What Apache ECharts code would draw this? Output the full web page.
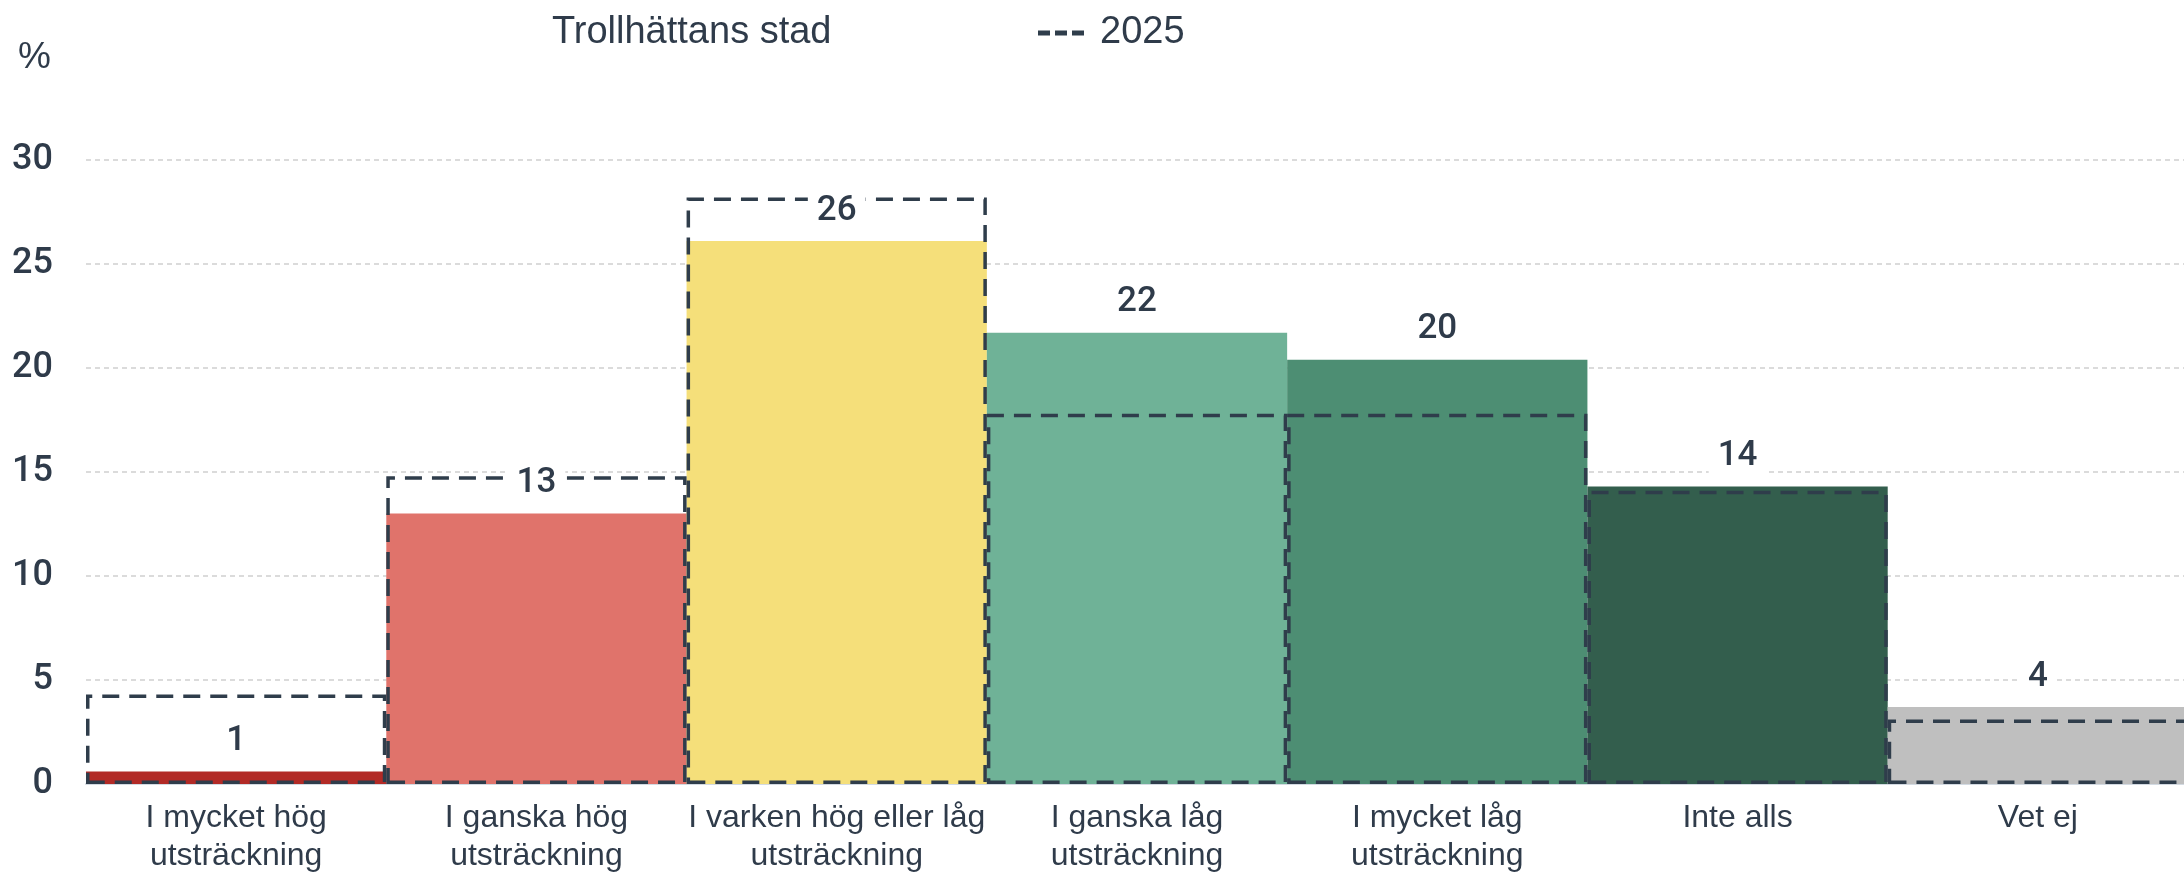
<!DOCTYPE html>
<html>
<head>
<meta charset="utf-8">
<script src="https://cdn.jsdelivr.net/npm/echarts@6/dist/echarts.min.js"></script>
<style>
html,body{margin:0;padding:0;background:#ffffff;}
#chart{width:2184px;height:876px;}
</style>
</head>
<body>
<div id="chart"></div>
<script>
// ---- data ----
const categories = [
  'I mycket hög\nutsträckning',
  'I ganska hög\nutsträckning',
  'I varken hög eller låg\nutsträckning',
  'I ganska låg\nutsträckning',
  'I mycket låg\nutsträckning',
  'Inte alls',
  'Vet ej'
];
const currentName = 'Trollhättans stad';
const currentValues = [0.6, 13.0, 26.1, 21.7, 20.4, 14.3, 3.7];
const compareName = '2025';
const compareValues = [4.3, 14.8, 28.2, 17.8, 17.8, 14.1, 3.1];
const barColors = ['#b22a26', '#e0736b', '#f5df7a', '#6fb297', '#4d8e73', '#335e4d', '#bfbfbf'];
const yMin = 0, yMax = 30, yStep = 5;

// ---- styling ----
const textColor = '#2f3b4a';
const dashColor = '#2f3d4b';

const chart = echarts.init(document.getElementById('chart'), null, {renderer: 'canvas'});

const option = {
  animation: false,
  backgroundColor: '#ffffff',
  grid: {left: 86, right: -4, top: 160, bottom: 92, containLabel: false, outerBoundsMode: 'none'},
  legend: [
    {
      data: [{name: currentName, itemStyle: {opacity: 0}}],
      left: 542, top: 8,
      itemWidth: 0, itemHeight: 14,
      selectedMode: false,
      textStyle: {fontFamily: 'Liberation Sans', fontSize: 38, lineHeight: 40, color: textColor}
    },
    {
      data: [{
        name: compareName,
        icon: 'path://M0,0h12v5h-12z M17,0h12v5h-12z M34,0h12v5h-12z',
        itemStyle: {color: dashColor, borderWidth: 0}
      }],
      left: 1033, top: 8,
      itemWidth: 46, itemHeight: 5,
      selectedMode: false,
      textStyle: {fontFamily: 'Liberation Sans', fontSize: 38, lineHeight: 40, color: textColor, padding: [0, 0, 0, 11]}
    }
  ],
  xAxis: {
    type: 'category',
    data: categories,
    axisTick: {show: false},
    axisLine: {show: true, lineStyle: {color: '#d3dae2', width: 2}},
    axisLabel: {
      interval: 0, margin: 15,
      fontFamily: 'Liberation Sans', fontSize: 32, lineHeight: 38,
      color: textColor
    },
    splitLine: {show: false}
  },
  yAxis: {
    type: 'value',
    min: yMin, max: yMax, interval: yStep,
    name: '%',
    nameLocation: 'end',
    nameGap: 102,
    nameTextStyle: {
      fontFamily: 'Liberation Sans', fontSize: 37, color: textColor,
      align: 'right', verticalAlign: 'middle', padding: [0, 35, 0, 0]
    },
    axisLine: {show: false},
    axisTick: {show: false},
    axisLabel: {margin: 33, fontFamily: 'Roboto', fontWeight: 500, fontSize: 36, color: textColor},
    splitLine: {show: true, lineStyle: {color: '#cfcfcf', width: 1.5, type: [5, 4]}}
  },
  series: [
    {
      name: currentName,
      type: 'bar',
      z: 2,
      barGap: '-100%',
      barCategoryGap: '0%',
      data: currentValues.map((v, i) => ({value: v, itemStyle: {color: barColors[i]}})),
      silent: true
    },
    {
      name: compareName,
      type: 'bar',
      z: 3,
      barGap: '-100%',
      barCategoryGap: '0%',
      data: compareValues,
      itemStyle: {color: 'rgba(0,0,0,0)', borderColor: dashColor, borderWidth: 3.5, borderType: [17, 10]},
      silent: true
    },
    {
      name: 'labels',
      type: 'bar',
      z: 4,
      barGap: '-100%',
      barCategoryGap: '0%',
      data: currentValues,
      itemStyle: {color: 'rgba(0,0,0,0)'},
      label: {
        show: true, position: 'top', distance: 12,
        formatter: p => String(Math.round(p.value)),
        fontFamily: 'Roboto', fontWeight: 500, fontSize: 35, lineHeight: 36,
        color: textColor, backgroundColor: '#ffffff', padding: [0, 9]
      },
      silent: true
    }
  ]
};
chart.setOption(option);
</script>
</body>
</html>
